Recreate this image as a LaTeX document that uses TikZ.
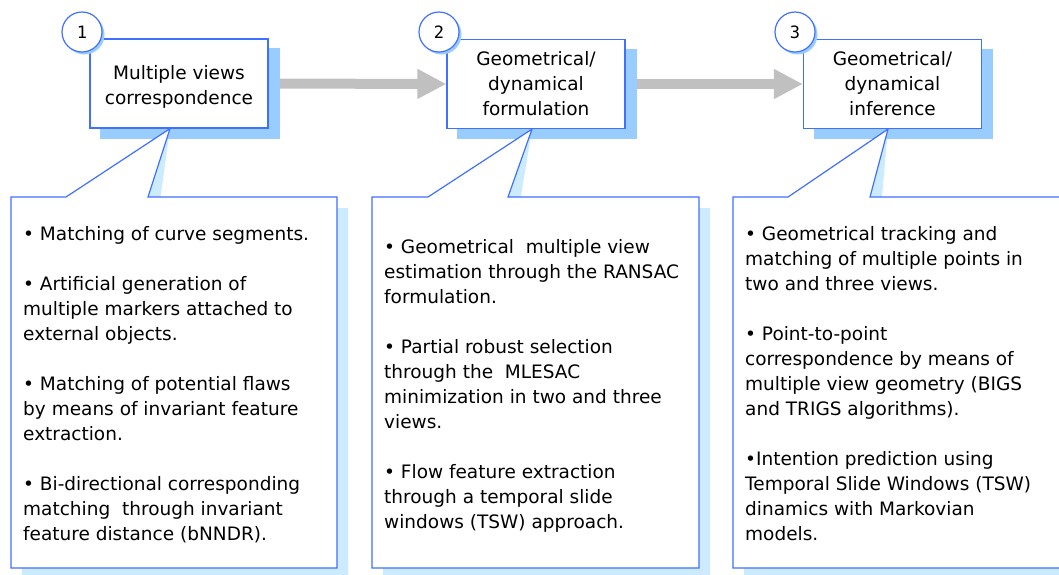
\documentclass[tikz,border=0pt]{standalone}
\usepackage{fontspec}
\setmainfont{DejaVu Sans}
\newfontfamily\numfont{DejaVu Sans Mono}
\usetikzlibrary{arrows.meta}
\definecolor{bline}{RGB}{64,112,255}
\definecolor{bshadow}{HTML}{99CCFF}
\definecolor{cshadow}{HTML}{CCEBFF}
\definecolor{agray}{HTML}{C0C0C0}
\pgfdeclarelayer{lA}
\pgfdeclarelayer{lB}
\pgfdeclarelayer{lC}
\pgfdeclarelayer{lD}
\pgfdeclarelayer{lE}
\pgfsetlayers{lA,lB,lC,lD,lE,main}
\begin{document}
\begin{tikzpicture}[x=1pt,y=-1pt,
  txt/.style={font=\fontsize{18.5pt}{25pt}\selectfont},
  titlebox/.style={txt, draw=bline, line width=1.2pt, fill=white,
    minimum width=178pt, minimum height=89pt, inner sep=0pt, align=center},
  caltext/.style={txt, anchor=north west, inner sep=0pt, align=left},
  callout/.style={draw=bline, line width=1.2pt, fill=white, line join=miter},
  calshadow/.style={fill=cshadow},
  boxshadow/.style={fill=bshadow},
  numcircle/.style={circle, draw=bline, line width=1.2pt, fill=white,
    minimum size=40pt, inner sep=0pt, font=\numfont\fontsize{17pt}{18pt}\selectfont},
  bigarrow/.style={draw=agray, line width=10pt,
    -{Triangle[length=29pt 0 0, width=28pt 0 0, fill=agray]}}]
\useasboundingbox (0,0) rectangle (1059,574);

% title boxes
\begin{pgfonlayer}{lD}
\node[titlebox] (b1) at (179,83.5) {\rule{0pt}{20pt}Multiple views\\correspondence};
\node[titlebox] (b2) at (536,84) {Geometrical/\\dynamical\\formulation};
\node[titlebox] (b3) at (892.5,84) {Geometrical/\\dynamical\\inference};
\end{pgfonlayer}

% arrows
\begin{pgfonlayer}{lA}
\draw[bigarrow] (b1.east) -- (b2.west);
\draw[bigarrow] (b2.east) -- (b3.west);
\end{pgfonlayer}

% box shadows
\begin{pgfonlayer}{lB}
\foreach \b in {b1,b2,b3}{
  \fill[boxshadow] ([shift={(11,10)}]\b.south west) rectangle ([shift={(11,10)}]\b.north east);
}
\end{pgfonlayer}

% callout shadows
\begin{pgfonlayer}{lA}
\begin{scope}[shift={(11,11)}]
\fill[calshadow] (11,197) -- (66,197) -- ([xshift=-9pt]b1.south) -- (148,197) -- (337,197) -- (337,568) -- (11,568) -- cycle;
\fill[calshadow] (372,197) -- (428,197) -- ([xshift=-4pt]b2.south) -- (508,197) -- (699,197) -- (699,568) -- (372,568) -- cycle;
\fill[calshadow] (733,197) -- (788,197) -- ([xshift=-4.5pt]b3.south) -- (870,197) -- (1075,197) -- (1075,568) -- (733,568) -- cycle;
\end{scope}
\end{pgfonlayer}

% callouts
\begin{pgfonlayer}{lC}
\draw[callout] (11,197) -- (66,197) -- ([xshift=-9pt]b1.south) -- (148,197) -- (337,197) -- (337,568) -- (11,568) -- cycle;
\draw[callout] (372,197) -- (428,197) -- ([xshift=-4pt]b2.south) -- (508,197) -- (699,197) -- (699,568) -- (372,568) -- cycle;
\draw[callout] (733,197) -- (788,197) -- ([xshift=-4.5pt]b3.south) -- (870,197) -- (1075,197) -- (1075,568) -- (733,568) -- cycle;
\end{pgfonlayer}

% callout texts
\node[caltext] (t1) at (23,226) {• Matching of curve segments.\\[25pt]
• Artificial generation of\\multiple markers attached to\\external objects.\\[25pt]
• Matching of potential flaws\\by means of invariant feature\\extraction.\\[25pt]
• Bi-directional corresponding\\matching~ through invariant\\feature distance (bNNDR).};
\node[caltext] (t2) at (384,239) {• Geometrical~ multiple view\\estimation through the RANSAC\\formulation.\\[25pt]
• Partial robust selection\\through the~ MLESAC\\minimization in two and three\\views.\\[25pt]
• Flow feature extraction\\through a temporal slide\\windows (TSW) approach.};
\node[caltext] (t3) at (745,226) {• Geometrical tracking and\\matching of multiple points in\\two and three views.\\[25pt]
• Point-to-point\\correspondence by means of\\multiple view geometry (BIGS\\and TRIGS algorithms).\\[25pt]
•Intention prediction using\\Temporal Slide Windows (TSW)\\dinamics with Markovian\\models.};

% number circles
\node[numcircle] (n1) at (82,32) {1};
\node[numcircle] (n2) at (439,32) {2};
\node[numcircle] (n3) at (795,32) {3};
\begin{pgfonlayer}{lE}
\foreach \n in {n1,n2,n3}{
  \fill[boxshadow] ([shift={(2.5,2.5)}]\n.center) circle (20pt);
}
\end{pgfonlayer}
\end{tikzpicture}
\end{document}
